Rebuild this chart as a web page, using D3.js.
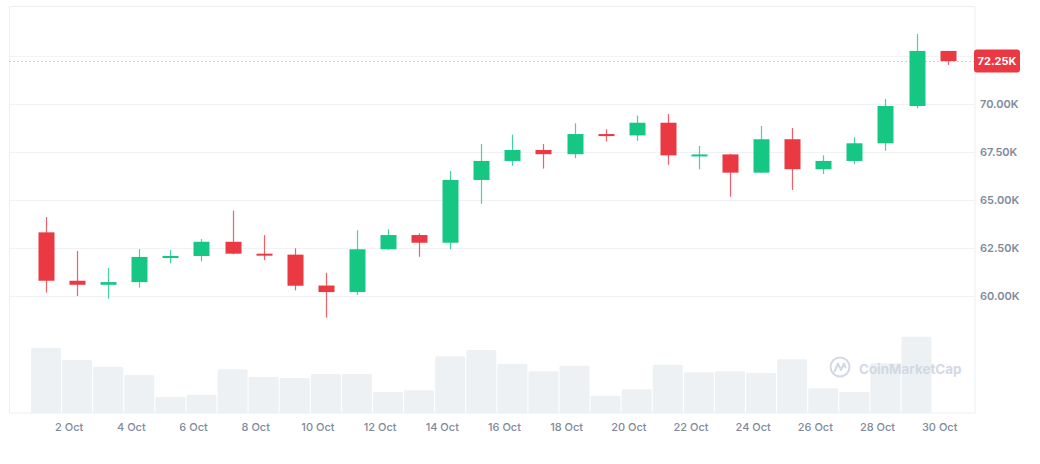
<!DOCTYPE html>
<html>
<head>
<meta charset="utf-8">
<script src="https://cdn.jsdelivr.net/npm/d3@7"></script>
<style>
  html, body { margin: 0; padding: 0; background: #ffffff; }
  svg { display: block; font-family: Inter, "Noto Sans", sans-serif; }
</style>
</head>
<body>
<svg id="chart" width="1040" height="464"></svg>
<script>
// ---- data (BTC/USD daily, October) ----
const days   = d3.range(1, 31);
const open   = [63330,60810,60600,60740,62050,62100,62840,62220,62170,60560,60220,62450,63190,62790,66060,67050,67620,67400,68450,68380,69040,67340,67390,66440,68180,66620,67050,67970,69910,72780];
const high   = [64130,62360,61470,62460,62410,62980,64460,63190,62500,61230,63440,63490,63280,66530,67930,68420,67930,69010,68700,69410,69500,67830,67420,68870,68770,67340,68280,70280,73660,72780];
const low    = [60190,60020,59880,60450,61720,61820,62190,61880,60310,58890,60070,62430,62060,62450,64820,66800,66650,67190,68070,68100,66850,66610,65190,66420,65540,66370,66880,67580,69790,72050];
const close  = [60810,60600,60740,62050,62100,62840,62220,62150,60550,60220,62450,63190,62790,66060,67050,67620,67400,68450,68380,69040,67340,67390,66440,68180,66620,67050,67970,69910,72780,72250];
const volume = [45.5,37.1,32.4,26.6,11.2,12.8,30.6,25.2,24.5,27.3,27.3,14.7,15.9,39.7,44.1,34.3,29.2,33.1,12.1,16.6,33.8,28.5,29.2,28.0,37.6,17.3,14.7,34.8,53.4,0];
const xTickDays   = [2,4,6,8,10,12,14,16,18,20,22,24,26,28,30];
const xTickLabels = xTickDays.map(d => d + " Oct");
const yTicks      = [60000, 62500, 65000, 67500, 70000];
const yGrid       = [60000, 62500, 65000, 67500, 70000, 72500];
const lastPrice   = 72250;
const lastPriceLabel = "72.25K";

// ---- layout ----
const frame = {left: 9.5, top: 6.5, right: 975, bottom: 413};
const UP = "#16c784", DOWN = "#ea3943";
const GRID = "#f0f2f5", TEXT = "#808a9d";

const svg = d3.select("#chart");

const x = d3.scaleLinear().domain([1, 30]).range([46, 947.6]);
const step = x(2) - x(1);
const tickShift = -0.27; // axis dates sit at day start, candles at session centre
const y = d3.scaleLinear().domain([60000, 70000]).range([296.3, 104.3]);
const yv = d3.scaleLinear().domain([0, 60]).range([frame.bottom, frame.bottom - 85.7]);

// grid
svg.append("g").selectAll("line").data(yGrid).join("line")
  .attr("x1", frame.left).attr("x2", frame.right)
  .attr("y1", d => Math.round(y(d)) + 0.5).attr("y2", d => Math.round(y(d)) + 0.5)
  .attr("stroke", GRID).attr("stroke-width", 1);

// frame
svg.append("path")
  .attr("d", `M${frame.left},${frame.bottom}V${frame.top}H${frame.right}V${frame.bottom}H${frame.left}`)
  .attr("fill", "none").attr("stroke", "#eceef2").attr("stroke-width", 1);

// volume bars
svg.append("g").selectAll("rect").data(days.filter((d, i) => volume[i] > 0)).join("rect")
  .attr("x", d => x(d) - step / 2 + 0.5)
  .attr("width", step - 1)
  .attr("y", d => yv(volume[d - 1]))
  .attr("height", d => frame.bottom - yv(volume[d - 1]))
  .attr("rx", 1.5)
  .attr("fill", "#eef1f4");

// watermark
const wm = svg.append("g").attr("transform", "translate(840,367)");
wm.append("circle").attr("r", 9.5).attr("fill", "none").attr("stroke", "#d3d9e3").attr("stroke-width", 2);
wm.append("path").attr("d", "M-5.5,4.5 L-2,-3.5 L1,3 L4,-3.5 L5.5,0.5")
  .attr("fill", "none").attr("stroke", "#d3d9e3").attr("stroke-width", 2).attr("stroke-linejoin", "round").attr("stroke-linecap", "round");
svg.append("text").attr("x", 859).attr("y", 369).attr("dy", "0.35em")
  .attr("font-size", 13.4).attr("font-weight", 700).attr("fill", "#d3d9e3")
  .text("CoinMarketCap");

// last price dotted line
svg.append("line")
  .attr("x1", frame.left).attr("x2", frame.right)
  .attr("y1", Math.round(y(lastPrice)) + 0.5).attr("y2", Math.round(y(lastPrice)) + 0.5)
  .attr("stroke", "#a3aab8").attr("stroke-width", 1).attr("stroke-dasharray", "1,3");

// candles
const candles = svg.append("g").selectAll("g").data(days).join("g");
candles.append("line")
  .attr("x1", d => Math.round(x(d)) + 0.5).attr("x2", d => Math.round(x(d)) + 0.5)
  .attr("y1", d => y(high[d - 1])).attr("y2", d => y(low[d - 1]))
  .attr("stroke", d => close[d - 1] >= open[d - 1] ? UP : DOWN)
  .attr("stroke-width", 1.2).attr("stroke-opacity", 0.8);
candles.append("rect")
  .attr("x", d => Math.round(x(d)) + 0.5 - 8)
  .attr("width", 16)
  .attr("y", d => y(Math.max(open[d - 1], close[d - 1])))
  .attr("height", d => Math.max(2, Math.abs(y(open[d - 1]) - y(close[d - 1]))))
  .attr("fill", d => close[d - 1] >= open[d - 1] ? UP : DOWN);

// y axis labels
const yAxis = d3.axisRight(y).tickValues(yTicks).tickSize(0).tickPadding(0)
  .tickFormat(d => (d / 1000).toFixed(2) + "K");
const gy = svg.append("g").attr("transform", `translate(980,0)`).call(yAxis);
gy.select(".domain").remove();
gy.selectAll("text").attr("font-family", "Inter, 'Noto Sans', sans-serif")
  .attr("font-size", 11).attr("font-weight", 600).attr("fill", TEXT);

// x axis labels
const xAxis = d3.axisBottom(x).tickValues(xTickDays.map(d => d + tickShift)).tickSize(0).tickPadding(0)
  .tickFormat((d, i) => xTickLabels[i]);
const gx = svg.append("g").attr("transform", `translate(0,423)`).call(xAxis);
gx.select(".domain").remove();
gx.selectAll("text").attr("font-family", "Inter, 'Noto Sans', sans-serif")
  .attr("font-size", 11).attr("font-weight", 500).attr("fill", TEXT);

// last price tag
const tag = svg.append("g").attr("transform", `translate(974,${y(lastPrice)})`);
tag.append("rect").attr("x", 0).attr("y", -11.5).attr("width", 46).attr("height", 23).attr("rx", 3).attr("fill", DOWN);
tag.append("text").attr("x", 23).attr("y", 0).attr("dy", "0.35em").attr("text-anchor", "middle")
  .attr("font-size", 11).attr("font-weight", 700).attr("fill", "#ffffff").text(lastPriceLabel);
</script>
</body>
</html>
